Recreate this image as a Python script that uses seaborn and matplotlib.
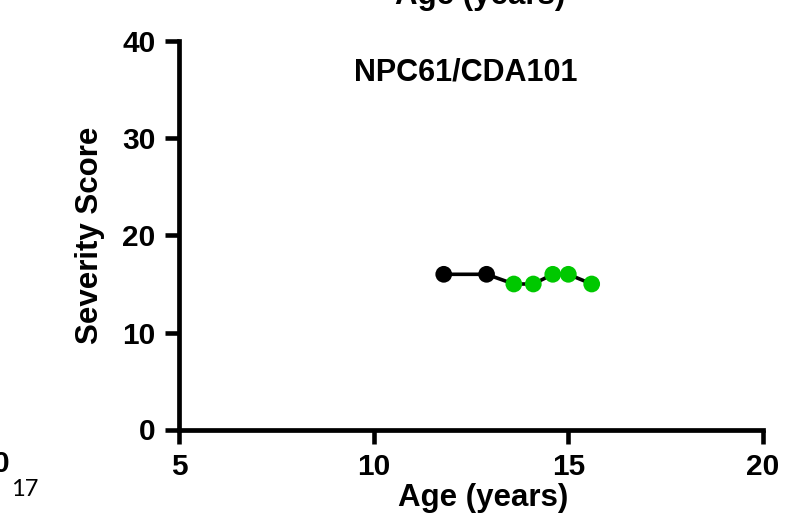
import matplotlib
matplotlib.use('Agg')
import matplotlib.pyplot as plt
import seaborn as sns
import pandas as pd

# Values
age = [11.8, 12.9, 13.6, 14.1, 14.6, 15.0, 15.6]
score = [16, 16, 15, 15, 16, 16, 15]
phase = ['before', 'before', 'on', 'on', 'on', 'on', 'on']
x_ticks = [5, 10, 15, 20]
y_ticks = [0, 10, 20, 30, 40]
title = 'NPC61/CDA101'

df = pd.DataFrame({'age': age, 'score': score, 'phase': phase})

sns.set_style('ticks')
plt.rcParams['font.family'] = ['Liberation Sans', 'DejaVu Sans']
plt.rcParams['font.weight'] = 'bold'
for key in ['text.color', 'axes.edgecolor', 'axes.labelcolor',
            'xtick.color', 'ytick.color']:
    plt.rcParams[key] = 'black'

fig = plt.figure(figsize=(7.93, 5.19), dpi=100)
ax = fig.add_axes([179 / 793, 1 - 429.5 / 519, 584 / 793, 388 / 519])

sns.lineplot(data=df, x='age', y='score', color='black', lw=2.6, sort=False,
             ax=ax, zorder=2)
sns.scatterplot(data=df, x='age', y='score', hue='phase',
                palette={'before': 'black', 'on': '#00C800'},
                s=145, edgecolor='none', legend=False, ax=ax, zorder=3)

ax.set_xlim(5, 20)
ax.set_ylim(0, 40)
ax.set_xticks(x_ticks)
ax.set_yticks(y_ticks)
ax.tick_params(labelsize=21.5, width=3.3, length=10, pad=7)
for lab in ax.get_xticklabels() + ax.get_yticklabels():
    lab.set_fontweight('bold')
sns.despine(ax=ax)
for s in ['left', 'bottom']:
    ax.spines[s].set_linewidth(3.4)

ax.set_xlabel('Age (years)', fontsize=22.5, fontweight='bold', va='center')
ax.set_ylabel('Severity Score', fontsize=22.5, fontweight='bold', va='center')
ax.xaxis.set_label_coords(0.52, -0.1765)
ax.yaxis.set_label_coords(-0.152, 0.50)
ax.text(0.491, 0.92, title, transform=ax.transAxes, ha='center', va='center',
        fontsize=22, fontweight='bold')

# cropped pieces of neighbouring slide content
fig.text(0.605, 1 - 4 / 519, 'Age (years)', ha='center', va='baseline',
         fontsize=22.5, fontweight='bold')
fig.text(10 / 793, 1 - 464 / 519, '0', ha='right', va='center',
         fontsize=21.5, fontweight='bold')
fig.text(11 / 793, 1 - 489 / 519, '17', ha='left', va='center',
         fontsize=17, fontweight='normal', family=['Lato', 'DejaVu Sans'])

fig.savefig('out.png', dpi=100, facecolor='white')
